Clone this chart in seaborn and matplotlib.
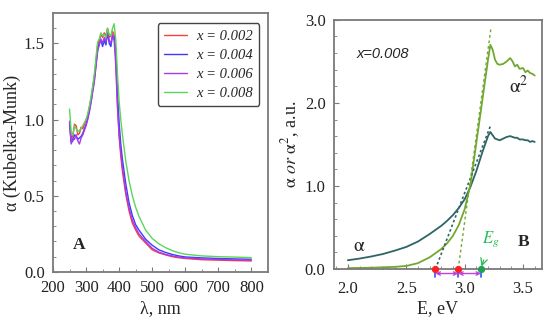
import numpy as np
import pandas as pd
import matplotlib
matplotlib.use("Agg")
import matplotlib.pyplot as plt
import seaborn as sns

# ---------------- data (panel A) ----------------
wavelength = [250, 255, 260, 265, 270, 275, 280, 285, 290, 295, 300, 305, 310, 315, 320,
              325, 330, 335, 340, 345, 350, 355, 360, 365, 370, 375, 380, 385, 390, 395,
              400, 405, 410, 420, 430, 440, 450, 460, 480, 500, 520, 540, 560, 580, 600,
              650, 700, 750, 800]
a_x002 = [0.98, 0.88, 0.89, 0.97, 0.96, 0.90, 0.91, 0.95, 0.94, 0.97, 1.00, 1.02, 1.08, 1.14, 1.21,
          1.28, 1.38, 1.49, 1.52, 1.56, 1.54, 1.57, 1.55, 1.60, 1.54, 1.55, 1.58, 1.56, 1.40, 1.10,
          0.89, 0.76, 0.66, 0.51, 0.40, 0.32, 0.275, 0.235, 0.19, 0.145, 0.125, 0.112, 0.10, 0.093, 0.088,
          0.080, 0.077, 0.074, 0.072]
a_x004 = [0.97, 0.85, 0.86, 0.90, 0.89, 0.87, 0.88, 0.89, 0.91, 0.94, 0.97, 1.01, 1.06, 1.12, 1.19,
          1.26, 1.36, 1.46, 1.50, 1.52, 1.48, 1.52, 1.49, 1.57, 1.50, 1.48, 1.55, 1.54, 1.45, 1.18,
          0.98, 0.84, 0.74, 0.58, 0.455, 0.37, 0.31, 0.275, 0.215, 0.175, 0.145, 0.128, 0.115, 0.105, 0.098,
          0.092, 0.088, 0.085, 0.083]
a_x006 = [0.99, 0.84, 0.88, 0.87, 0.90, 0.86, 0.84, 0.88, 0.90, 0.93, 0.96, 1.00, 1.05, 1.11, 1.18,
          1.25, 1.35, 1.45, 1.49, 1.53, 1.50, 1.54, 1.51, 1.58, 1.52, 1.50, 1.56, 1.52, 1.35, 1.08,
          0.90, 0.79, 0.69, 0.53, 0.42, 0.34, 0.29, 0.25, 0.20, 0.155, 0.13, 0.115, 0.105, 0.097, 0.092,
          0.085, 0.082, 0.079, 0.077]
a_x008 = [1.07, 0.92, 0.90, 0.96, 0.94, 0.92, 0.93, 0.94, 0.96, 0.98, 1.00, 1.04, 1.09, 1.15, 1.22,
          1.30, 1.41, 1.51, 1.53, 1.57, 1.55, 1.56, 1.54, 1.60, 1.56, 1.55, 1.60, 1.63, 1.52, 1.30,
          1.12, 1.00, 0.90, 0.73, 0.60, 0.50, 0.425, 0.365, 0.275, 0.22, 0.185, 0.16, 0.14, 0.126, 0.116,
          0.105, 0.10, 0.097, 0.094]
series_labels = ["x = 0.002", "x = 0.004", "x = 0.006", "x = 0.008"]
series_colors = ["#ff3b3b", "#3b3bff", "#a23be8", "#5ad65a"]

# ---------------- data (panel B) ----------------
energy = [2.0, 2.1, 2.2, 2.3, 2.4, 2.5, 2.6, 2.7, 2.8, 2.85, 2.9, 2.95, 3.0, 3.05, 3.1, 3.15,
          3.2, 3.22, 3.24, 3.26, 3.28, 3.3, 3.33, 3.36, 3.39, 3.41, 3.43, 3.45, 3.47, 3.5,
          3.52, 3.54, 3.56, 3.58, 3.6]
alpha = [0.105, 0.125, 0.15, 0.18, 0.22, 0.265, 0.33, 0.42, 0.52, 0.58, 0.65, 0.735, 0.84, 0.99,
         1.18, 1.40, 1.60, 1.65, 1.61, 1.57, 1.56, 1.55, 1.57, 1.59, 1.60, 1.59, 1.58, 1.58,
         1.56, 1.56, 1.55, 1.55, 1.53, 1.54, 1.53]
alpha_sq = [0.01, 0.012, 0.015, 0.02, 0.025, 0.036, 0.07, 0.14, 0.24, 0.31, 0.40, 0.53, 0.72,
            1.02, 1.52, 2.02, 2.52, 2.70, 2.64, 2.52, 2.47, 2.46, 2.47, 2.50, 2.54, 2.50, 2.44,
            2.46, 2.41, 2.42, 2.37, 2.39, 2.36, 2.35, 2.33]
tangent_alpha_E = [2.75, 3.22]
tangent_alpha_y = [0.0, 1.72]
tangent_sq_E = [2.945, 3.225]
tangent_sq_y = [0.0, 2.90]
Eg_points = [2.75, 2.945, 3.14]

# ---------------- style ----------------
sns.set_style("ticks")
plt.rcParams["font.family"] = ["Liberation Serif", "DejaVu Serif"]
plt.rcParams["mathtext.fontset"] = "stix"
plt.rcParams["axes.edgecolor"] = "#7a7a7a"
plt.rcParams["axes.linewidth"] = 1.3
plt.rcParams["xtick.color"] = "#7a7a7a"
plt.rcParams["ytick.color"] = "#7a7a7a"
plt.rcParams["xtick.labelcolor"] = "#222222"
plt.rcParams["ytick.labelcolor"] = "#222222"

TICK_FS = 12
LABEL_FS = 13

fig = plt.figure(figsize=(5.5, 3.26), dpi=100)
axA = fig.add_axes([0.0964, 0.166, 0.487 - 0.0964, 0.960 - 0.166])
axB = fig.add_axes([0.607, 0.175, 0.985 - 0.607, 0.939 - 0.175])

# ---- panel A ----
dfA = pd.DataFrame({
    "wl": wavelength * 4,
    "val": a_x002 + a_x004 + a_x006 + a_x008,
    "series": sum([[lab] * len(wavelength) for lab in series_labels], []),
})
sns.lineplot(data=dfA, x="wl", y="val", hue="series", palette=series_colors,
             hue_order=series_labels, ax=axA, lw=1.0, sort=False)
axA.set_xlim(200, 850)
axA.set_ylim(0, 1.7)
axA.set_xticks([200, 300, 400, 500, 600, 700, 800])
axA.set_xticks(np.arange(250, 850, 100), minor=True)
axA.set_yticks([0.0, 0.5, 1.0, 1.5])
axA.set_yticks(np.arange(0.1, 1.7, 0.1), minor=True)
axA.set_xlabel("λ, nm", fontsize=LABEL_FS, labelpad=3)
axA.set_ylabel("α (Kubelka-Munk)", fontsize=LABEL_FS, labelpad=2)
axA.tick_params(which="both", direction="in", labelsize=TICK_FS)
axA.tick_params(axis="x", which="both", pad=6)
axA.tick_params(axis="y", which="both", pad=6)
axA.tick_params(which="major", length=3.5)
axA.tick_params(which="minor", length=2)
for s in axA.spines.values():
    s.set_visible(True)
leg = axA.legend(loc="upper right", bbox_to_anchor=(0.995, 0.99), frameon=True, fancybox=True,
                 handlelength=1.6, handletextpad=0.6, labelspacing=0.4,
                 borderpad=0.45, prop={"style": "italic", "size": 10.5})
leg.get_frame().set_edgecolor("#444444")
leg.get_frame().set_linewidth(1.0)
leg.get_frame().set_alpha(1)
axA.text(280, 0.175, "A", fontsize=12.5, fontweight="bold", ha="center", va="center")

# ---- panel B ----
teal = "#2f6464"
green = "#72a832"
sns.lineplot(x=energy, y=alpha, ax=axB, color=teal, lw=1.3, sort=False)
sns.lineplot(x=energy, y=alpha_sq, ax=axB, color=green, lw=1.3, sort=False)
axB.plot(tangent_alpha_E, tangent_alpha_y, color=teal, ls=(0, (1.5, 1.5)), lw=1.2)
axB.plot(tangent_sq_E, tangent_sq_y, color=green, ls=(0, (2, 2)), lw=1.0)
axB.set_xlim(1.88, 3.66)
axB.set_ylim(0, 3.0)
axB.set_xticks([2.0, 2.5, 3.0, 3.5])
axB.set_xticks(np.arange(1.9, 3.66, 0.1), minor=True)
axB.set_yticks([0.0, 1.0, 2.0, 3.0])
axB.set_yticks(np.arange(0.2, 3.0, 0.2), minor=True)
axB.xaxis.set_major_formatter(matplotlib.ticker.FormatStrFormatter("%.1f"))
axB.yaxis.set_major_formatter(matplotlib.ticker.FormatStrFormatter("%.1f"))
axB.set_xlabel("E, eV", fontsize=LABEL_FS, labelpad=2)
axB.set_ylabel(r"$\mathrm{\alpha}$ $\mathit{or}$ $\mathrm{\alpha}^{2}$, a.u.", fontsize=LABEL_FS, labelpad=2)
axB.tick_params(which="both", direction="in", labelsize=TICK_FS)
axB.tick_params(axis="x", which="both", pad=9)
axB.tick_params(axis="y", which="both", pad=6)
axB.tick_params(which="major", length=3.5)
axB.tick_params(which="minor", length=2)
for s in axB.spines.values():
    s.set_visible(True)

# band-gap markers below the axis
yarr = -0.055
for x0, x1 in [(Eg_points[0], Eg_points[1]), (Eg_points[1], Eg_points[2])]:
    axB.annotate("", xy=(x1, yarr), xytext=(x0, yarr), annotation_clip=False,
                 arrowprops=dict(arrowstyle="<->", color="#c040e0", lw=1.0,
                                 shrinkA=0, shrinkB=0, mutation_scale=6))
for xe in Eg_points:
    axB.plot([xe, xe], [-0.1, 0.0], color="#3050ff", lw=1.2, clip_on=False)
axB.scatter(Eg_points[:2], [0, 0], color="#ff2020", s=18, zorder=5, clip_on=False)
axB.scatter(Eg_points[2:], [0], color="#20a050", s=18, zorder=5, clip_on=False)
axB.annotate(r"$\mathit{E}_{\mathit{g}}$", xy=(3.145, 0.03), xytext=(3.22, 0.36),
             color="#22bb55", fontsize=12, ha="center", va="center",
             arrowprops=dict(arrowstyle="->", color="#22bb55", lw=0.9, shrinkA=6, shrinkB=0))
axB.text(3.5, 0.33, "B", fontsize=12.5, fontweight="bold", ha="center", va="center")
axB.text(3.46, 2.2, r"$\mathrm{\alpha}^{2}$", fontsize=14, ha="center", va="center")
axB.text(2.1, 0.27, r"$\mathrm{\alpha}$", fontsize=14, ha="center", va="center")
axB.text(2.3, 2.59, "x=0.008", fontsize=10.5, style="italic", family=["Liberation Sans", "DejaVu Sans"],
         ha="center", va="center")

fig.savefig("out.png", dpi=100)
